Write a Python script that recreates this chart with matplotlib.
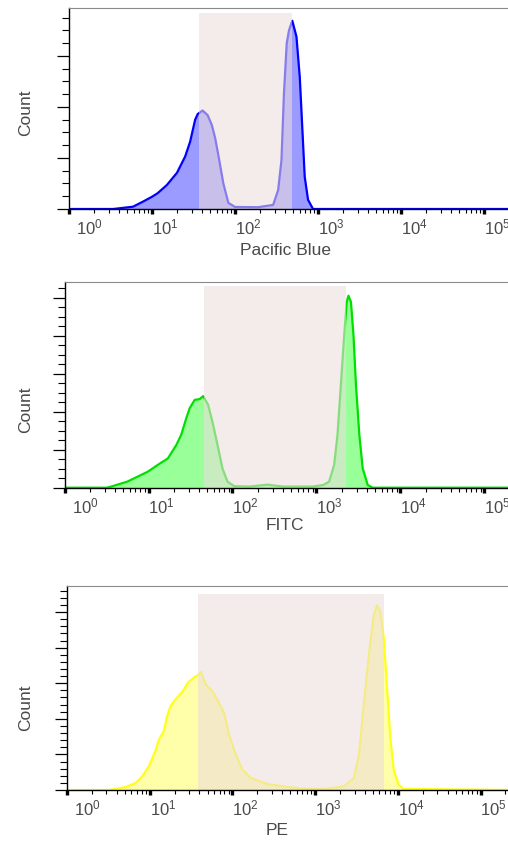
import numpy as np
import matplotlib
matplotlib.use("Agg")
import matplotlib.pyplot as plt
from matplotlib.ticker import MultipleLocator, LogLocator, NullFormatter
from matplotlib.patches import Rectangle
from matplotlib.transforms import ScaledTranslation

plt.rcParams['font.family'] = ['Liberation Sans', 'DejaVu Sans']
plt.rcParams['mathtext.fontset'] = 'custom'
plt.rcParams['mathtext.rm'] = 'Liberation Sans'
plt.rcParams['mathtext.it'] = 'Liberation Sans'
plt.rcParams['mathtext.bf'] = 'Liberation Sans'

# ---------------- data ----------------
channels = ["Pacific Blue", "FITC", "PE"]
tick_values = [1, 10, 100, 1000, 10000, 100000]
tick_labels = [r"$10^{0}$", r"$10^{1}$", r"$10^{2}$", r"$10^{3}$", r"$10^{4}$", r"$10^{5}$"]

# Pacific Blue histogram (intensity, count)
pb_x = [1, 3.4, 5.9, 7.8, 10, 11.7, 15.1, 20, 25.1, 28.8, 33.1, 35.5, 40.7, 46.8, 52.5, 57.5,
        63.1, 72.4, 83.2, 100, 190, 288, 331, 363, 389, 420, 447, 490, 550, 603, 646, 692,
        759, 871, 250000]
pb_y = [0, 0, 4.5, 14.5, 24, 31, 47, 71, 103, 132, 175, 186, 193, 184, 165, 140,
        105, 50, 12, 4, 3.5, 8, 37, 96, 227, 325, 350, 369, 338, 259, 161, 63,
        18, 0, 0]
pb_gate = (36.8, 486, 384)

# FITC histogram
fitc_x = [1, 3.2, 3.6, 5.6, 7.4, 9.8, 12.9, 17, 21.4, 24.5, 28.2, 30.9, 35.5, 40.7, 44.7, 51.3,
          58.9, 67.6, 75.9, 87.1, 105, 158, 263, 398, 891, 1202, 1413, 1622, 1778, 1950,
          2138, 2291, 2399, 2570, 2754, 2951, 3236, 3548, 4074, 4677, 250000]
fitc_y = [0, 0, 3, 16, 29, 42, 60, 77, 112, 139, 183, 209, 231, 233, 241, 218,
          165, 104, 51, 16, 4, 3, 8, 3, 3, 7, 16, 60, 139, 270,
          402, 489, 505, 489, 402, 270, 139, 51, 7, 0, 0]
fitc_gate = (45.2, 2275, 531)

# PE histogram
pe_x = [1, 3.2, 5.1, 6.8, 8.1, 9.8, 11.7, 12.9, 14.8, 16.2, 17.8, 20.4, 25.1, 28.8, 34.7, 38,
        41.7, 47.9, 57.5, 69.2, 79.4, 91.2, 110, 132, 166, 263, 417, 676, 1288, 2239,
        2951, 3388, 3890, 4467, 5129, 5623, 6166, 6761, 7413, 8128, 8913, 10233, 11749, 250000]
pe_y = [0, 0, 8, 20, 38, 67, 109, 141, 165, 207, 235, 254, 277, 301, 317, 322,
        331, 296, 277, 244, 216, 155, 99, 57, 34, 17, 10, 4, 3, 10,
        34, 99, 240, 380, 492, 519, 502, 427, 287, 146, 57, 15, 3, 0]
pe_gate = (38, 6761, 551)

# ---------------- styles ----------------
line_colors = ["#0000ff", "#00e000", "#ffff1a"]
fill_colors = ["#9a9aff", "#99ff99", "#ffffaa"]
gate_color = (237 / 255, 220 / 255, 220 / 255)
gate_alpha = 0.57
text_color = "#4a4a4a"

W, H = 508, 842
fig = plt.figure(figsize=(W / 100, H / 100), dpi=100)

# layout per panel: left px, top px, bottom px, px per decade, ylim top, count-label y, xlabel pos
layouts = [
    dict(left=69, top=8, bottom=209, dec=83, ytop=394, yminor=25, ylab_y=113, xlab=(286, 243)),
    dict(left=64.5, top=282, bottom=487.7, dec=84, ytop=541, yminor=25, ylab_y=410, xlab=(285, 518)),
    dict(left=67, top=585.7, bottom=790, dec=82.7, ytop=574, yminor=20, ylab_y=708, xlab=(277, 823)),
]
datasets = [(pb_x, pb_y, pb_gate), (fitc_x, fitc_y, fitc_gate), (pe_x, pe_y, pe_gate)]
xmax_log = 5.45

for i, (lay, (xs, ys, gate)) in enumerate(zip(layouts, datasets)):
    width_px = xmax_log * lay["dec"]
    height_px = lay["bottom"] - lay["top"]
    ax = fig.add_axes([lay["left"] / W, 1 - lay["bottom"] / H, width_px / W, height_px / H])
    ax.set_xscale("log")
    ax.set_xlim(1, 10 ** xmax_log)
    ax.set_ylim(0, lay["ytop"])

    ax.fill_between(xs, ys, 0, color=fill_colors[i], lw=0, zorder=1)
    ax.plot(xs, ys, color=line_colors[i], lw=1.6, zorder=2, solid_joinstyle="round")
    g0, g1, gh = gate
    ax.add_patch(Rectangle((g0, lay["ytop"] * 0.0 + gh * 0.0 + 0), g1 - g0, gh,
                           facecolor=gate_color, alpha=gate_alpha, lw=0, zorder=3))

    # spines
    ax.spines["right"].set_visible(False)
    ax.spines["top"].set_color("#8a8a8a")
    ax.spines["top"].set_linewidth(0.8)
    ax.spines["left"].set_linewidth(1.0)
    ax.spines["bottom"].set_linewidth(1.0)
    for s in ax.spines.values():
        s.set_zorder(5)

    # x ticks
    ax.set_xticks(tick_values)
    ax.set_xticklabels(tick_labels, ha="left")
    ax.xaxis.set_minor_locator(LogLocator(base=10, subs=np.arange(2, 10), numticks=20))
    ax.xaxis.set_minor_formatter(NullFormatter())
    ax.tick_params(axis="x", which="major", direction="out", length=3.5, width=2.4,
                   pad=2.5, labelsize=12, labelcolor=text_color)
    ax.tick_params(axis="x", which="minor", direction="out", length=3, width=0.8)
    first = ax.xaxis.get_major_ticks()[0].label1
    first.set_transform(first.get_transform() + ScaledTranslation(7 / 100, 0, fig.dpi_scale_trans))

    # y ticks (no labels)
    ax.yaxis.set_major_locator(MultipleLocator(100))
    ax.yaxis.set_minor_locator(MultipleLocator(lay["yminor"]))
    ax.tick_params(axis="y", which="major", direction="out", length=9, width=0.9, labelleft=False)
    ax.tick_params(axis="y", which="minor", direction="out", length=5, width=0.8)

    # labels
    ax.set_ylabel("Count", fontsize=12.5, color=text_color)
    ax.yaxis.set_label_coords((33 - lay["left"]) / width_px, (lay["bottom"] - lay["ylab_y"]) / height_px)
    ax.set_xlabel(channels[i], fontsize=12.5, color=text_color)
    ax.xaxis.set_label_coords((lay["xlab"][0] - lay["left"]) / width_px,
                              (lay["bottom"] - lay["xlab"][1]) / height_px)

fig.savefig("out.png", dpi=100)
